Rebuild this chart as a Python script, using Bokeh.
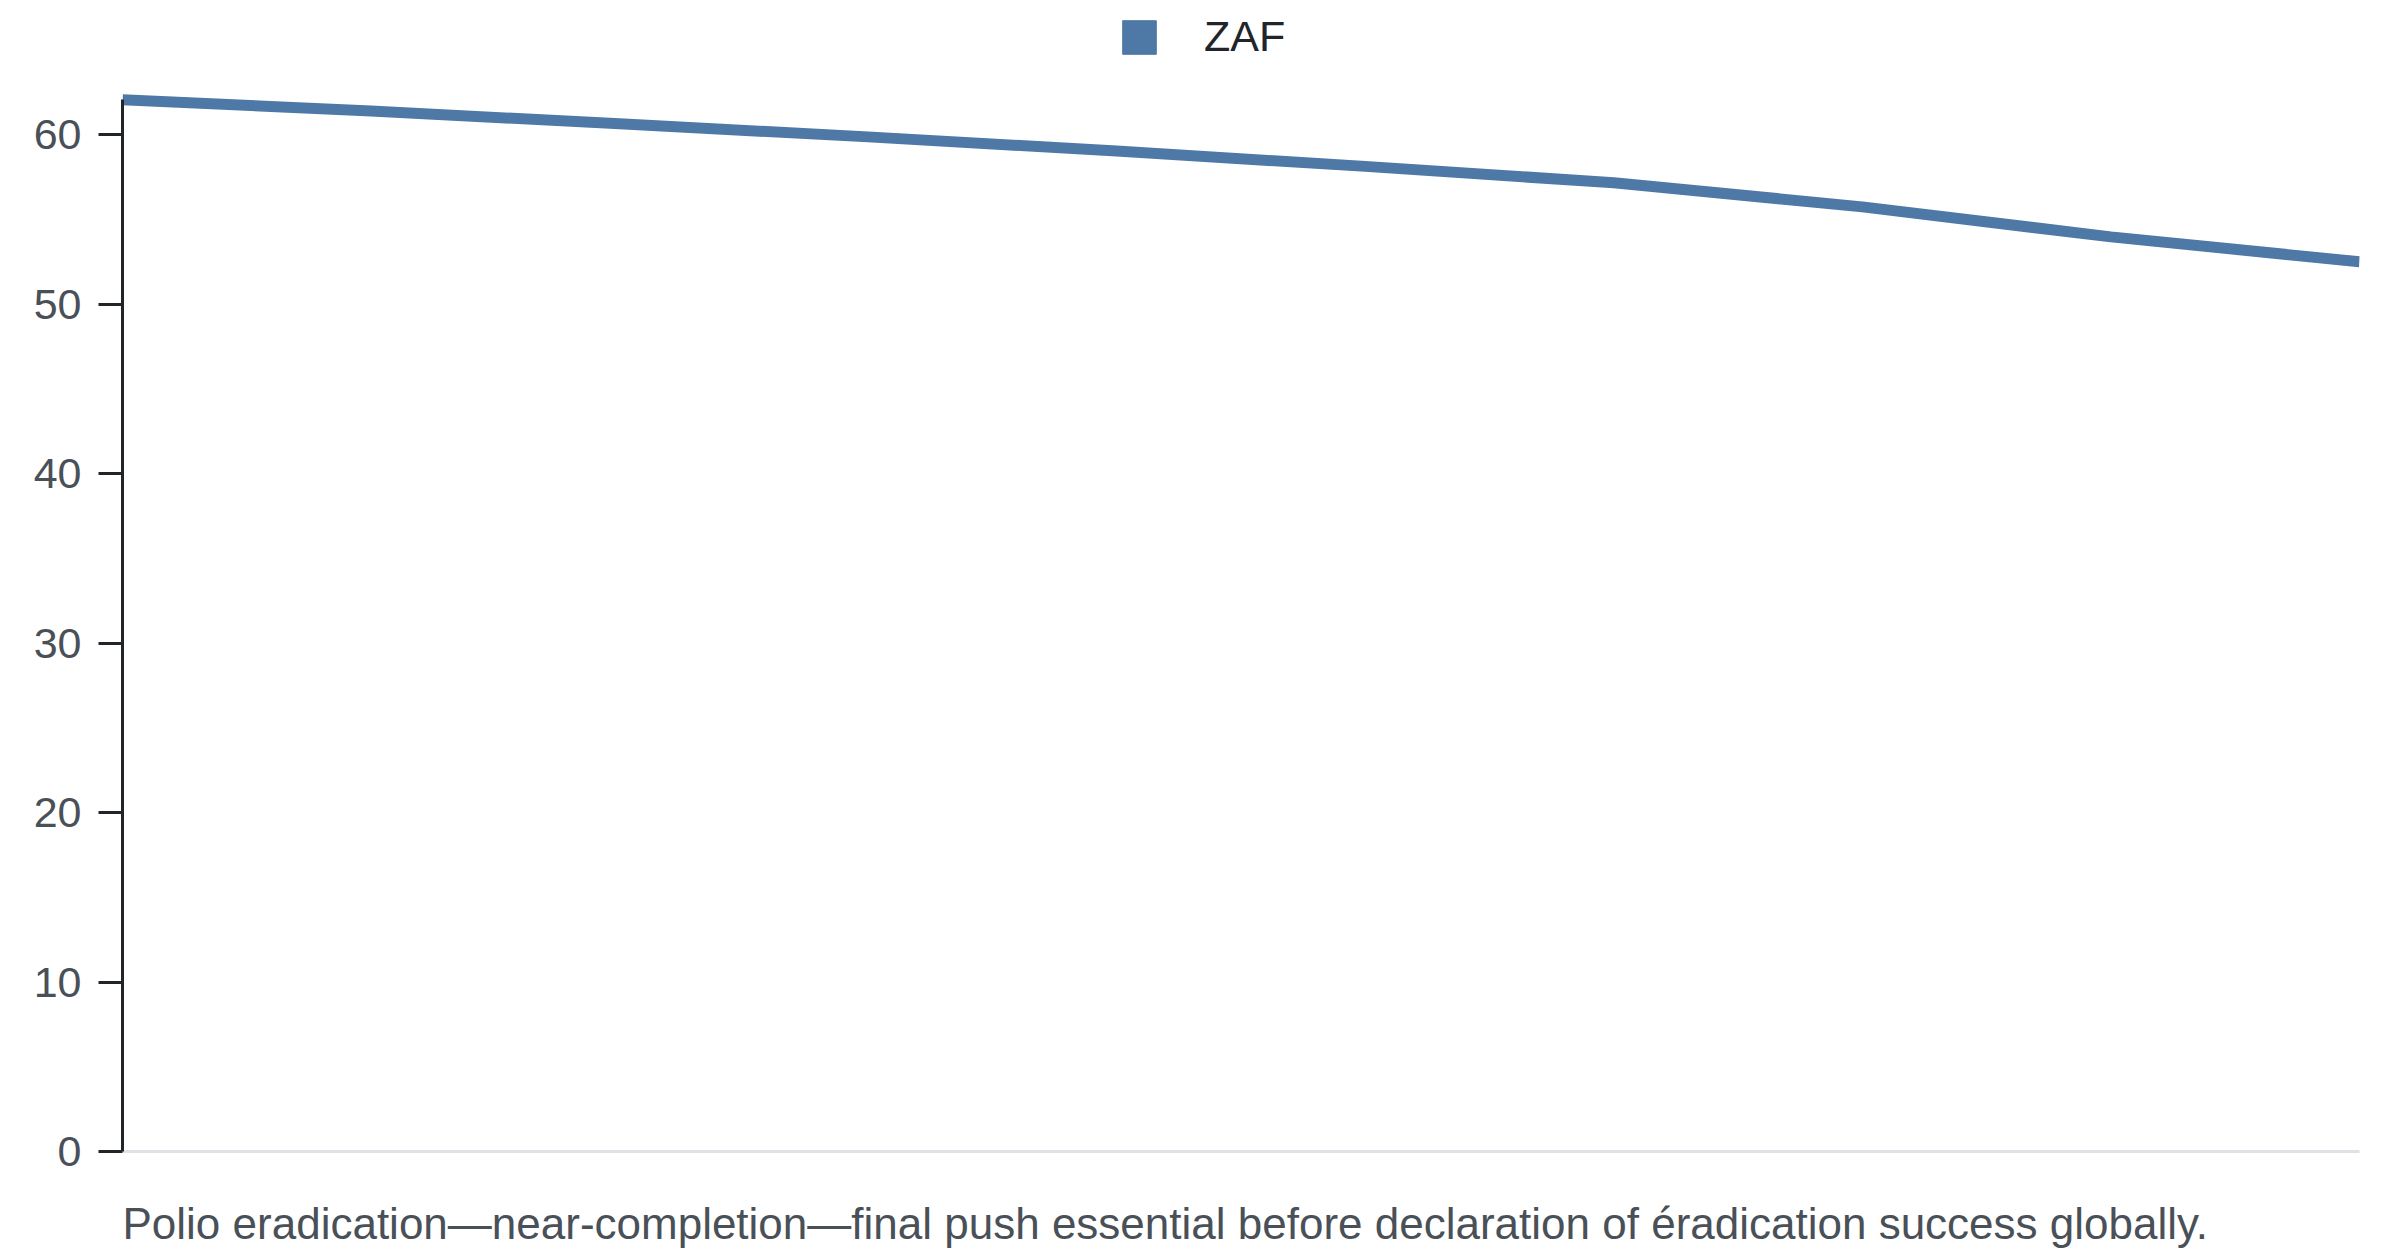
from bokeh.plotting import figure
from bokeh.models import Range1d, FixedTicker, Legend, LegendItem, Title
from bokeh.embed import file_html
from bokeh.resources import INLINE

# ---- data ----
years = [2013, 2014, 2015, 2016, 2017, 2018, 2019, 2020, 2021, 2022]
zaf = [62.05, 61.38, 60.63, 59.86, 59.02, 58.12, 57.15, 55.73, 53.96, 52.49]
series_name = "ZAF"
y_ticks = [0, 10, 20, 30, 40, 50, 60]
caption = ("Polio eradication\u2014near-completion\u2014final push essential "
           "before declaration of \u00e9radication success globally.")

LINE_COLOR = "#4e79a7"
AXIS_COLOR = "#212529"
TEXT_GRAY = "#495057"
FONT = "Liberation Sans"

FRAME_H = 1141
PX_PER_UNIT = 16.95

p = figure(
    frame_width=2237, frame_height=FRAME_H,
    min_border_left=122, min_border_right=33,
    min_border_top=10, min_border_bottom=103,
    x_range=Range1d(years[0], years[-1]),
    y_range=Range1d(0, FRAME_H / PX_PER_UNIT),
    output_backend="svg", toolbar_location=None,
    background_fill_color="white", border_fill_color="white",
)
p.outline_line_color = None
p.xgrid.visible = False
p.ygrid.visible = False

line = p.line(years, zaf, line_color=LINE_COLOR, line_width=11)
swatch = p.quad(left=[float("nan")], right=[float("nan")],
                top=[float("nan")], bottom=[float("nan")],
                fill_color=LINE_COLOR, line_color=LINE_COLOR)

# y axis
ya = p.yaxis[0]
ya.ticker = FixedTicker(ticks=y_ticks)
ya.bounds = (0, zaf[0])
ya.axis_line_color = AXIS_COLOR
ya.axis_line_width = 3
ya.major_tick_line_color = AXIS_COLOR
ya.major_tick_line_width = 3
ya.major_tick_out = 24
ya.major_tick_in = 0
ya.minor_tick_line_color = None
ya.major_label_standoff = 17
ya.major_label_text_font = FONT
ya.major_label_text_font_size = "43px"
ya.major_label_text_color = TEXT_GRAY

# x axis: only a light baseline
xa = p.xaxis[0]
xa.ticker = FixedTicker(ticks=[])
xa.axis_line_color = "#dee2e6"
xa.axis_line_width = 3
xa.major_tick_line_color = None
xa.minor_tick_line_color = None

legend = Legend(
    items=[LegendItem(label=series_name, renderers=[swatch])],
    location=(996, 1090),
    orientation="horizontal",
    glyph_width=42, glyph_height=42,
    label_standoff=44,
    label_text_font=FONT, label_text_font_size="43px",
    label_text_color="#212529",
    padding=0, margin=0, spacing=0,
    border_line_color=None, background_fill_alpha=0,
)
p.add_layout(legend, "center")

p.add_layout(Title(text=caption, align="left", text_font=FONT,
                   text_font_size="44px", text_font_style="normal",
                   text_color=TEXT_GRAY, standoff=90), "below")

open("out.html", "w").write(file_html(p, INLINE))
